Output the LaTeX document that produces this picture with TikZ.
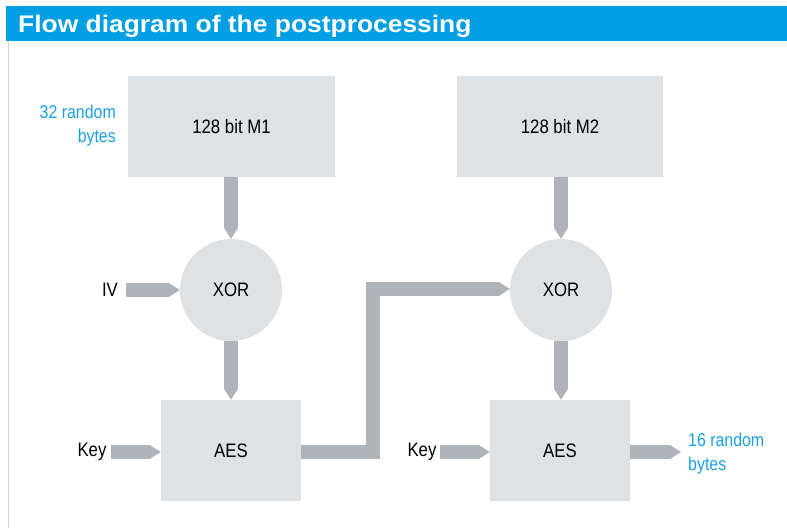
\documentclass[tikz,border=0pt]{standalone}
\usepackage{fontspec}
\setmainfont{Liberation Sans}[FakeStretch=0.86]
\newfontfamily\titlefont{Liberation Sans}[FakeStretch=1.1]
\usetikzlibrary{arrows.meta}
\definecolor{hdrblue}{RGB}{0,159,227}
\definecolor{boxgrey}{RGB}{222,226,229}
\definecolor{arrgrey}{RGB}{174,180,185}
\definecolor{txtblue}{RGB}{27,161,226}
\definecolor{edgegrey}{RGB}{208,212,215}
\tikzset{
  blockbox/.style={rectangle, fill=boxgrey, inner sep=0pt, font=\fontsize{19.5}{22}\selectfont},
  xorcircle/.style={circle, fill=boxgrey, inner sep=0pt, minimum size=102pt, font=\fontsize{19.5}{22}\selectfont},
  fat/.style={draw=arrgrey, line width=14pt, line join=miter,
    -{Triangle[length=11pt, width=14pt, line width=0pt, fill=arrgrey]}},
  lbl/.style={inner sep=0pt, font=\fontsize{19.5}{22}\selectfont},
  bluelbl/.style={inner sep=0pt, text=txtblue, font=\fontsize{18.5}{24}\selectfont},
}
\begin{document}
\begin{tikzpicture}[x=1pt, y=-1pt]
\useasboundingbox (0,0) rectangle (787,528);
\fill[white] (0,0) rectangle (787,528);
% header
\fill[hdrblue] (6,6) rectangle (787,41);
\node[anchor=base west, inner sep=0pt, text=white, font=\titlefont\fontsize{24}{28}\selectfont\bfseries] (title) at (18,32) {Flow diagram of the postprocessing};
\fill[edgegrey] (7.5,41) rectangle (8.5,528);
% blocks
\node[blockbox, minimum width=207pt, minimum height=101pt] (m1) at (231.5,126.5) {128 bit M1};
\node[blockbox, minimum width=206pt, minimum height=101pt] (m2) at (560,126.5) {128 bit M2};
\node[xorcircle] (x1) at (231,290) {XOR};
\node[xorcircle] (x2) at (561,290) {XOR};
\node[blockbox, minimum width=140pt, minimum height=101pt] (a1) at (231,450.5) {AES};
\node[blockbox, minimum width=140pt, minimum height=101pt] (a2) at (560,450.5) {AES};
% labels
\node[bluelbl, anchor=north east, align=right] (in32) at (116,104.5) {32 random\\bytes};
\node[bluelbl, anchor=north west, align=left] (out16) at (688,433) {16 random\\bytes};
\node[lbl] (iv) at (110,290) {IV};
\node[lbl] (key1) at (92,452) {Key};
\node[lbl] (key2) at (422,452) {Key};
% coordinates
\coordinate (ivs) at (126,290);
\coordinate (k1s) at (111,452);
\coordinate (k2s) at (440,452);
\coordinate (oute) at (681,452);
\coordinate (c1) at (373,452);
\coordinate (c2) at (373,289);
% connectors
\draw[fat] (m1.south -| x1.north) -- (x1.north);
\draw[fat] (m2.south -| x2.north) -- (x2.north);
\draw[fat] (x1.south) -- (a1.north -| x1.south);
\draw[fat] (x2.south) -- (a2.north -| x2.south);
\draw[fat] (ivs) -- (x1.west);
\draw[fat] (k1s) -- (a1.west |- k1s);
\draw[fat] (k2s) -- (a2.west |- k2s);
\draw[fat] (a2.east |- oute) -- (oute);
\draw[fat] (a1.east |- c1) -- (c1) -- (c2) -- (x2.west |- c2);
\end{tikzpicture}
\end{document}
